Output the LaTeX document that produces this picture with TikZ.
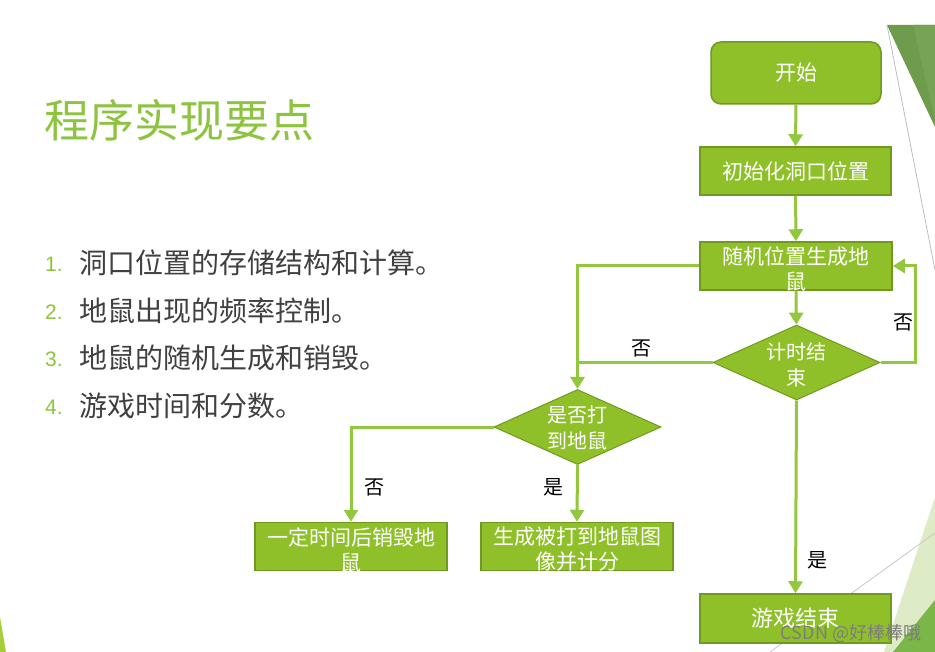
\documentclass[tikz,border=0pt]{standalone}
\usepackage{fontspec}
\setmainfont{Noto Sans CJK SC}
\newfontfamily\numfont{Liberation Sans}
\usetikzlibrary{arrows.meta,shapes.geometric}
\definecolor{boxfill}{HTML}{8FC02A}
\definecolor{boxedge}{HTML}{6F9A1F}
\definecolor{conncol}{HTML}{93C83E}
\definecolor{titlegreen}{HTML}{8DC43F}
\definecolor{bodygray}{HTML}{404040}
\tikzset{
  box/.style={draw=boxedge, line width=1.5pt, fill=boxfill, text=white, inner sep=0pt,
    minimum width=192pt, minimum height=48pt, align=center,
    font=\fontsize{21}{26}\selectfont},
  boxtext/.style={text=white, inner sep=0pt, align=center, font=\fontsize{21}{25}\selectfont},
  startbox/.style={box, rounded corners=10pt, minimum width=170pt, minimum height=62pt},
  dia/.style={diamond, draw=boxedge, line width=1pt, fill=boxfill, inner sep=0pt,
    minimum width=167pt, minimum height=75pt},
  diatext/.style={text=white, align=center, inner sep=0pt, font=\fontsize{20}{26}\selectfont},
  conn/.style={draw=conncol, line width=3pt, -{Triangle[width=14pt,length=12pt]}},
  plainconn/.style={draw=conncol, line width=3pt},
  lbl/.style={text=black, inner sep=0pt, font=\fontsize{20}{24}\selectfont},
  listitem/.style={anchor=west, inner sep=0pt, text=bodygray, font=\fontsize{28}{32}\selectfont},
  listnum/.style={anchor=west, inner sep=0pt, text=titlegreen, font=\numfont\fontsize{21}{24}\selectfont},
}
\begin{document}
\begin{tikzpicture}[x=1pt,y=-1pt]
\useasboundingbox (0,0) rectangle (935,652);
% decorations
\fill[white] (0,0) rectangle (935,652);
\fill[color={rgb,255:red,110;green,155;blue,76}] (887,25) -- (935,25) -- (935,127) -- cycle;
\fill[color={rgb,255:red,118;green,163;blue,84}] (913,25) -- (935,25) -- (935,120) -- cycle;
\draw[color={rgb,255:red,190;green,190;blue,190}, line width=0.8pt] (887,25) -- (935,270);
\fill[color={rgb,255:red,221;green,235;blue,198}] (935,497) -- (935,652) -- (884,652) -- cycle;
\fill[color={rgb,255:red,122;green,182;blue,72}] (935,600) -- (935,652) -- (893,652) -- cycle;
\draw[color={rgb,255:red,200;green,200;blue,200}, line width=0.8pt] (935,533) -- (770,652);
\fill[color={rgb,255:red,166;green,206;blue,57}] (0,617) -- (0,652) -- (6,652) -- cycle;

% title and list
\node[anchor=west, inner sep=0pt, text=titlegreen, font=\fontsize{45}{50}\selectfont] (title) at (44,120) {程序实现要点};
\node[listnum] (n1) at (45,264) {1.};
\node[listitem] (t1) at (79,263) {洞口位置的存储结构和计算。};
\node[listnum] (n2) at (45,312) {2.};
\node[listitem] (t2) at (79,311) {地鼠出现的频率控制。};
\node[listnum] (n3) at (45,359) {3.};
\node[listitem] (t3) at (79,358) {地鼠的随机生成和销毁。};
\node[listnum] (n4) at (45,407) {4.};
\node[listitem] (t4) at (79,406) {游戏时间和分数。};

% flowchart
\node[startbox] (start) at (796,73) {开始};
\node[box, minimum width=191pt] (init) at (795.5,171) {初始化洞口位置};
\node[box] (rand) at (796,266) {};
\node[boxtext] (randt) at (796,269) {随机位置生成地\\鼠};
\node[dia] (d1) at (796.5,362.5) {};
\node[diatext] (d1t) at (796.5,365) {计时结\\束};
\node[dia] (d2) at (577.5,427) {};
\node[diatext] (d2t) at (577.5,428) {是否打\\到地鼠};
\node[box] (kill) at (351,546.5) {};
\node[boxtext] (killt) at (351,549.5) {一定时间后销毁地\\鼠};
\node[box] (hit) at (577,546.5) {};
\node[boxtext] (hitt) at (577,549) {生成被打到地鼠图\\像并计分};
\node[box, minimum width=191pt, minimum height=49pt, font=\fontsize{22}{26}\selectfont] (end) at (795.5,618.5) {游戏结束};

\draw[conn] (start) -- (init);
\draw[conn] (init) -- (rand);
\draw[conn] (rand) -- (d1);
\draw[conn] (d1.east) -- ++(35,0) |- (rand.east);
\draw[conn] (rand.west) -| (d2.north);
\draw[plainconn] (d1.west) -- (d2.north |- d1.west);
\draw[conn] (d2.west) -| (kill.north);
\draw[conn] (d2.south) -- (hit.north);
\draw[conn] (d1.south) -- (end.north);

\node[lbl] (l1) at (641,348) {否};
\node[lbl] (l2) at (903,322) {否};
\node[lbl] (l3) at (374,487) {否};
\node[lbl] (l4) at (553,487) {是};
\node[lbl] (l5) at (817,560) {是};

\node[inner sep=0pt, text={rgb,255:red,125;green,125;blue,125}, font=\fontsize{18}{20}\selectfont] (wm) at (851,633) {CSDN @好棒棒哦};
\end{tikzpicture}
\end{document}
